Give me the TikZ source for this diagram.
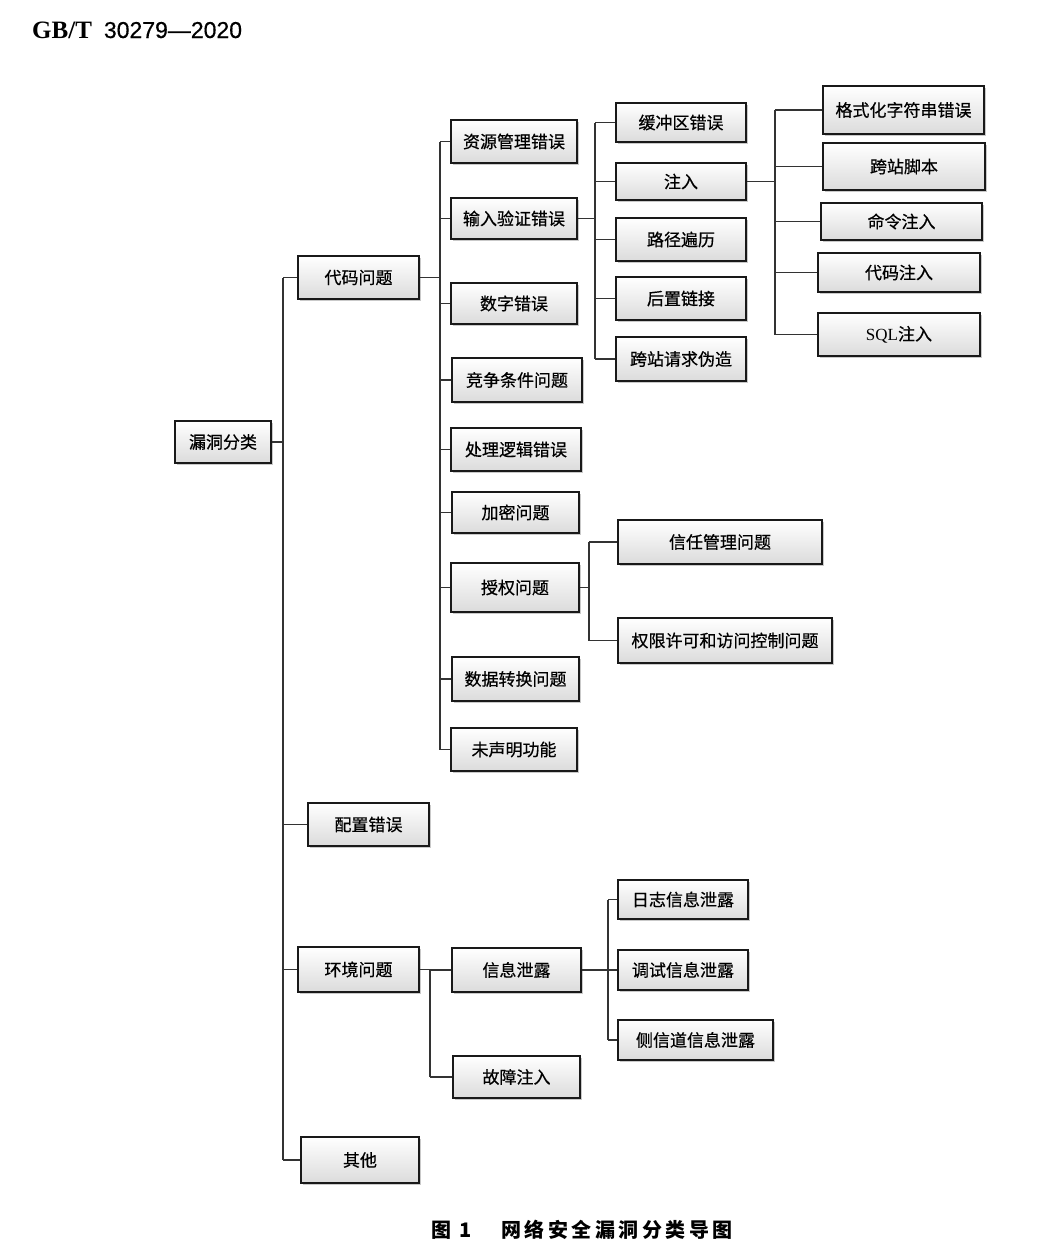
\documentclass[tikz,border=0pt]{standalone}
\usepackage{fontspec}
\setmainfont{Noto Sans CJK SC}[FakeBold=0.6]
\newfontfamily\capfont{Noto Sans CJK SC}
\newfontfamily\serifb{Liberation Serif}
\newfontfamily\sansl{Liberation Sans}[FakeBold=0.5]
\usetikzlibrary{shadows}
\tikzset{
  bx/.style={draw=black!90, line width=2pt, top color=white, bottom color=black!14,
    drop shadow={shadow xshift=1.6pt, shadow yshift=-1.6pt, opacity=0.35, fill=black!60},
    inner sep=0pt, font=\fontsize{17}{20}\selectfont, text=black},
  ln/.style={line width=1.2pt, draw=black!80}
}
\newcommand\bx[6]{\node[bx, minimum width={(#4-#2)*1pt}, minimum height={(#5-#3)*1pt}] (#1) at ({(#2+#4)/2},{(#3+#5)/2}) {#6};}
\newcommand\cs{\hspace{3.5pt}}
\begin{document}
\begin{tikzpicture}[x=1pt,y=-1pt]
\useasboundingbox[fill=white] (0,0) rectangle (1064,1254);
% header
\node[anchor=base west, inner sep=0pt] (hdr) at (32,38) {\fontsize{25}{28}\serifb\bfseries GB/T\hspace{12pt}\sansl\mdseries\fontsize{23}{26}\selectfont 30279—2020};
% caption
\node[anchor=center, inner sep=0pt] (cap) at (582,1230) {\capfont\fontsize{20}{24}\selectfont\bfseries 图\hspace{8pt}1\hspace{30pt}网\cs 络\cs 安\cs 全\cs 漏\cs 洞\cs 分\cs 类\cs 导\cs 图};
% junction coordinates
\coordinate (T) at (283,0);
\coordinate (C) at (440,0);
\coordinate (I) at (595,0);
\coordinate (J) at (775,0);
\coordinate (A) at (589,0);
\coordinate (E) at (430,0);
\coordinate (F) at (608,0);
% level 0/1
\bx{root}{175}{421}{271}{463}{漏洞分类}
\bx{dm}{298}{256}{419}{299}{代码问题}
\bx{pz}{308}{803}{429}{846}{配置错误}
\bx{hj}{298}{947}{419}{992}{环境问题}
\bx{qt}{301}{1137}{419}{1183}{其他}
% code children
\bx{c1}{451}{120}{577}{163}{资源管理错误}
\bx{c2}{451}{198}{577}{239}{输入验证错误}
\bx{c3}{451}{283}{577}{324}{数字错误}
\bx{c4}{452}{358}{582}{402}{竞争条件问题}
\bx{c5}{451}{428}{581}{471}{处理逻辑错误}
\bx{c6}{452}{492}{579}{533}{加密问题}
\bx{c7}{451}{563}{579}{612}{授权问题}
\bx{c8}{452}{657}{579}{701}{数据转换问题}
\bx{c9}{451}{728}{577}{771}{未声明功能}
% input validation children
\bx{i1}{616}{103}{746}{142}{缓冲区错误}
\bx{i2}{616}{163}{746}{200}{注入}
\bx{i3}{616}{218}{746}{261}{路径遍历}
\bx{i4}{616}{277}{746}{320}{后置链接}
\bx{i5}{616}{337}{746}{381}{跨站请求伪造}
% injection children
\bx{n1}{823}{86}{984}{134}{格式化字符串错误}
\bx{n2}{823}{143}{985}{190}{跨站脚本}
\bx{n3}{821}{203}{982}{240}{命令注入}
\bx{n4}{818}{253}{980}{292}{代码注入}
\bx{n5}{818}{313}{980}{356}{{\serifb SQL}注入}
% authorization children
\bx{a1}{618}{520}{822}{564}{信任管理问题}
\bx{a2}{618}{618}{832}{663}{权限许可和访问控制问题}
% environment children
\bx{e1}{452}{948}{581}{992}{信息泄露}
\bx{e2}{453}{1056}{580}{1098}{故障注入}
\bx{f1}{618}{880}{748}{919}{日志信息泄露}
\bx{f2}{618}{950}{748}{990}{调试信息泄露}
\bx{f3}{618}{1020}{773}{1060}{侧信道信息泄露}
% connectors: root
\draw[ln] (root.east) -- (root.east -| T);
\draw[ln] (dm.west -| T) -- (qt.west -| T);
\foreach \n in {dm,pz,hj,qt} \draw[ln] (\n.west -| T) -- (\n.west);
% code
\draw[ln] (dm.east) -- (dm.east -| C);
\draw[ln] (c1.west -| C) -- (c9.west -| C);
\foreach \n in {c1,c2,c3,c4,c5,c6,c7,c8,c9} \draw[ln] (\n.west -| C) -- (\n.west);
% input validation
\draw[ln] (c2.east) -- (c2.east -| I);
\draw[ln] (i1.west -| I) -- (i5.west -| I);
\foreach \n in {i1,i2,i3,i4,i5} \draw[ln] (\n.west -| I) -- (\n.west);
% injection
\draw[ln] (i2.east) -- (i2.east -| J);
\draw[ln] (n1.west -| J) -- (n5.west -| J);
\foreach \n in {n1,n2,n3,n4,n5} \draw[ln] (\n.west -| J) -- (\n.west);
% authorization
\draw[ln] (c7.east) -- (c7.east -| A);
\draw[ln] (a1.west -| A) -- (a2.west -| A);
\foreach \n in {a1,a2} \draw[ln] (\n.west -| A) -- (\n.west);
% environment
\draw[ln] (hj.east) -- (hj.east -| E);
\draw[ln] (e1.west -| E) -- (e2.west -| E);
\foreach \n in {e1,e2} \draw[ln] (\n.west -| E) -- (\n.west);
% info leak
\draw[ln] (e1.east) -- (e1.east -| F);
\draw[ln] (f1.west -| F) -- (f3.west -| F);
\foreach \n in {f1,f2,f3} \draw[ln] (\n.west -| F) -- (\n.west);
\end{tikzpicture}
\end{document}
